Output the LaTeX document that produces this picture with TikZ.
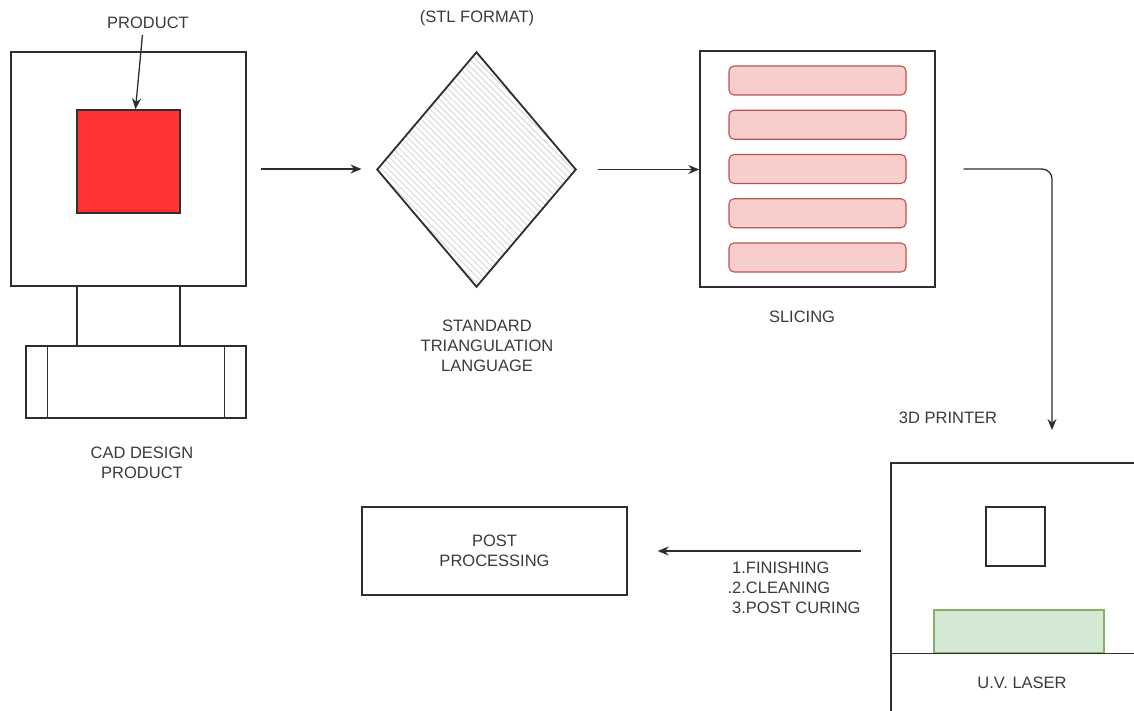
\documentclass[tikz,border=0pt]{standalone}
\usepackage{fontspec}
\setmainfont{Liberation Sans}
\usetikzlibrary{arrows.meta,shapes.geometric,patterns.meta}
\definecolor{Ink}{HTML}{2E2E2E}
\definecolor{Txt}{HTML}{3A3A3A}
\definecolor{RedProd}{HTML}{FF3333}
\definecolor{SliceFill}{HTML}{F8CECC}
\definecolor{SliceLine}{HTML}{B85450}
\definecolor{LaserFill}{HTML}{D5E8D4}
\definecolor{LaserLine}{HTML}{82B366}
\tikzset{
  box/.style={draw=Ink, line width=1.4pt, inner sep=0pt},
  lbl/.style={text=Txt, align=center, inner sep=0pt, font=\fontsize{16.5}{20}\selectfont},
  flow/.style={draw=Ink, line width=1.3pt, -{Stealth[length=11pt,width=9pt]}},
  slice/.style={box, line width=1.1pt, draw=SliceLine, fill=SliceFill, rounded corners=5pt, minimum width=177pt, minimum height=29pt},
}
\begin{document}
\begin{tikzpicture}[x=1pt,y=-1pt]
\useasboundingbox (0,0) rectangle (1134,710);
\clip (0,0) rectangle (1134,710);
%
% CAD design
\node[box, minimum width=235pt, minimum height=234pt] (cad) at (128.5,169) {};
\node[box, fill=RedProd, minimum size=103pt] (prod) at (128.5,161.5) {};
\node[box, minimum width=103pt, minimum height=59pt] (stand) at (128.5,316) {};
\node[box, minimum width=220pt, minimum height=72pt] (base) at (136,382) {};
\draw[Ink, line width=1.4pt] ([xshift=22pt]base.north west) -- ([xshift=22pt]base.south west);
\draw[Ink, line width=1.4pt] ([xshift=-22pt]base.north east) -- ([xshift=-22pt]base.south east);
\node[lbl] (prodlbl) at (148,23) {PRODUCT};
\node[lbl] (cadlbl) at (142,463) {CAD DESIGN\\PRODUCT};
%
% STL file
\node[box, diamond, line width=1.8pt, minimum width=199pt, minimum height=235pt,
      pattern={Lines[angle=-45,distance=4.5pt,line width=1pt]}, pattern color=Ink!18] (stl) at (476.5,169.5) {};
\node[lbl] (stlfmt) at (477,18) {(STL FORMAT)};
\node[lbl] (stllbl) at (487,346) {STANDARD\\TRIANGULATION\\LANGUAGE};
%
% slicing
\node[box, minimum width=235pt, minimum height=236pt] (slicer) at (817.5,169) {};
\foreach \i in {0,...,4}
  \node[slice] (slice\i) at (817.5,80.5+44.25*\i) {};
\node[lbl] (slicelbl) at (802,317) {SLICING};
%
% printer
\node[box, minimum width=300pt, minimum height=300pt] (printer) at (1041,613) {};
\node[box, minimum size=59pt] (part) at (1015.5,536.5) {};
\node[box, line width=1.1pt, draw=LaserLine, fill=LaserFill, minimum width=170pt, minimum height=43pt] (laser) at (1019,631.5) {};
\draw[Ink, line width=1.4pt] (printer.west |- laser.south) -- (printer.east |- laser.south);
\node[lbl] (printlbl) at (948,418) {3D PRINTER};
\node[lbl] (laserlbl) at (1022,683) {U.V. LASER};
\coordinate (prt) at (1052,430);
%
% post processing
\node[box, lbl, minimum width=265pt, minimum height=88pt] (post) at (494.5,551) {POST\\PROCESSING};
\node[lbl, align=left, anchor=west] (steps) at (732,588) {1.FINISHING\\\llap{.}2.CLEANING\\3.POST CURING};
%
% connectors
\draw[flow, shorten <=6pt] ([xshift=-5pt]prodlbl.south) -- ([xshift=7pt]prod.north);
\draw[flow, shorten <=14pt, shorten >=15pt] (cad.east) -- (cad.east -| stl.west);
\draw[flow, shorten <=21pt] (stl.east) -- (stl.east -| slicer.west);
\draw[flow, rounded corners=10pt] ([xshift=28pt]slicer.east) -| (prt);
\draw[flow, shorten <=29pt, shorten >=30pt] (post.east -| printer.west) -- (post.east);
%
\end{tikzpicture}
\end{document}
